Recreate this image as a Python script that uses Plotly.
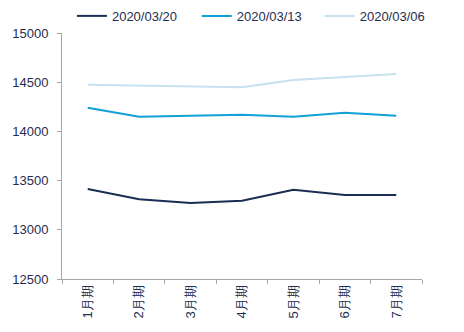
import plotly.graph_objects as go

categories = ["1月期", "2月期", "3月期", "4月期", "5月期", "6月期", "7月期"]
s_0320 = [13415, 13310, 13272, 13296, 13408, 13354, 13354]
s_0313 = [14241, 14150, 14160, 14170, 14150, 14190, 14160]
s_0306 = [14475, 14465, 14455, 14448, 14522, 14556, 14583]
y_ticks = [12500, 13000, 13500, 14000, 14500, 15000]

series = [
    ("2020/03/20", s_0320, "#1b2c55", "legend"),
    ("2020/03/13", s_0313, "#12a0d7", "legend2"),
    ("2020/03/06", s_0306, "#c6e2ee", "legend3"),
]

fig = go.Figure()
for name, vals, col, lg in series:
    fig.add_trace(go.Scatter(x=categories, y=vals, name=name, mode="lines",
                             line=dict(color=col, width=2), legend=lg))

txt = "#1f2d50"
font = dict(family="Liberation Sans, Arial, sans-serif", size=13, color=txt)


def leg(x):
    return dict(orientation="h", x=x, xanchor="left", xref="container",
                y=0.952, yanchor="middle", yref="container",
                font=dict(size=13, color=txt), itemwidth=30,
                bgcolor="rgba(0,0,0,0)")


fig.update_layout(
    width=464, height=332,
    margin=dict(l=62, r=42, t=33, b=53, autoexpand=False),
    paper_bgcolor="white", plot_bgcolor="white",
    font=font,
    showlegend=True,
    legend=leg(0.155), legend2=leg(0.424), legend3=leg(0.689),
    xaxis=dict(type="category", showline=True, linecolor="#a6a6a6", linewidth=1,
               ticks="outside", tickcolor="#a6a6a6", ticklen=4, showgrid=False,
               tickangle=-90, tickson="boundaries", range=[-0.5, 6.5],
               tickfont=dict(size=13, color=txt)),
    yaxis=dict(range=[12500, 15000], tickvals=y_ticks,
               ticktext=[str(v) for v in y_ticks], showline=True,
               linecolor="#a6a6a6", linewidth=1, ticks="outside",
               tickcolor="#a6a6a6", ticklen=4, showgrid=False, zeroline=False,
               ticklabelstandoff=6,
               tickfont=dict(size=13, color=txt)),
)
fig.write_html("out.html")
